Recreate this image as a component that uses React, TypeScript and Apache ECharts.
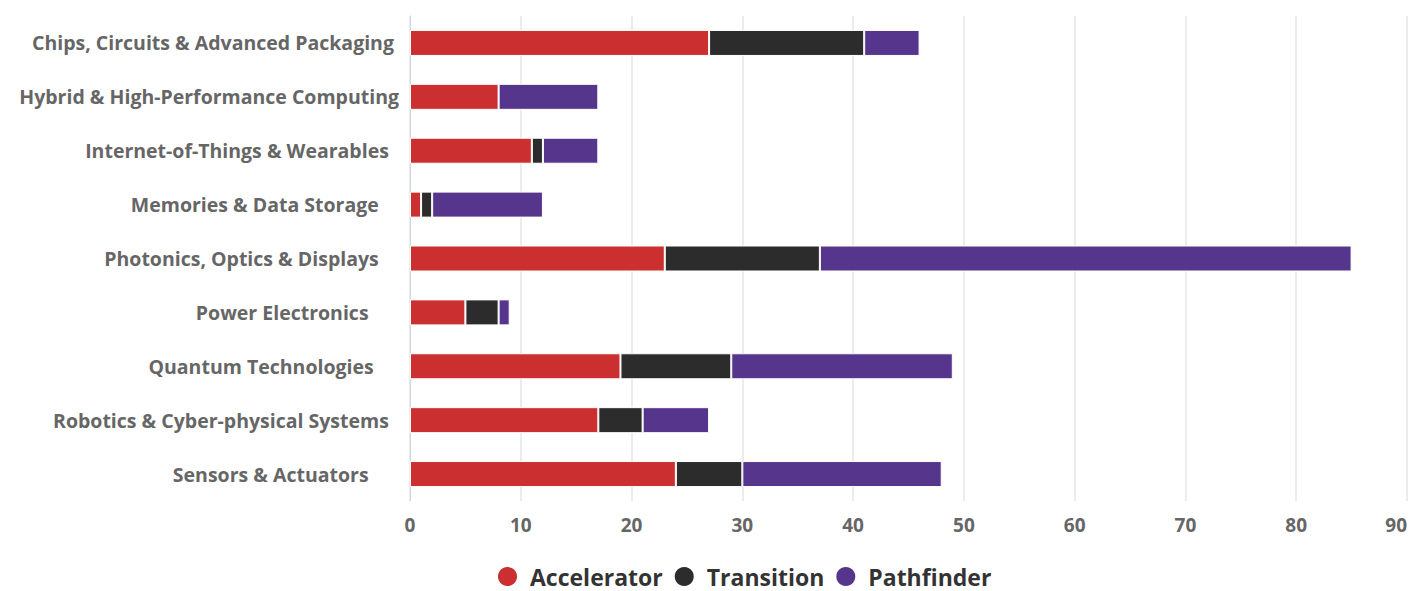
import React, { useEffect, useRef } from "react";
import * as echarts from "echarts";

const categories = [
  "Chips, Circuits & Advanced Packaging ",
  "Hybrid & High-Performance Computing",
  "Internet-of-Things & Wearables  ",
  "Memories & Data Storage    ",
  "Photonics, Optics & Displays    ",
  "Power Electronics      ",
  "Quantum Technologies     ",
  "Robotics & Cyber-physical Systems  ",
  "Sensors & Actuators      ",
];
const accelerator = [27, 8, 11, 1, 23, 5, 19, 17, 24];
const transition = [14, 0, 1, 1, 14, 3, 10, 4, 6];
const pathfinder = [5, 9, 5, 10, 48, 1, 20, 6, 18];
const xTicks = { min: 0, max: 90, interval: 10 };

const FONT = "'Open Sans', sans-serif";

export default function App() {
  const ref = useRef<HTMLDivElement>(null);
  useEffect(() => {
    const chart = echarts.init(ref.current!, undefined, { renderer: "svg" });
    const mk = (name: string, data: number[], color: string) => ({
      name,
      type: "bar",
      stack: "total",
      data,
      barWidth: 26,
      itemStyle: { color, borderColor: "#ffffff", borderWidth: 1 },
    });
    chart.setOption({
      animation: false,
      textStyle: { fontFamily: FONT },
      grid: {
        left: 410,
        right: 6,
        top: 16,
        bottom: 90,
        containLabel: false,
        outerBoundsMode: "none",
      },
      xAxis: {
        type: "value",
        min: xTicks.min,
        max: xTicks.max,
        interval: xTicks.interval,
        axisLine: { show: false },
        axisTick: { show: false },
        axisLabel: {
          color: "#666666",
          fontSize: 19,
          fontWeight: 700,
          margin: 14,
          fontFamily: FONT,
          alignMaxLabel: "right",
        },
        splitLine: { lineStyle: { color: "#e6e6e6", width: 1.5 } },
      },
      yAxis: {
        type: "category",
        inverse: true,
        data: categories,
        axisLine: { show: true, lineStyle: { color: "#ccd6eb", width: 1 } },
        axisTick: { show: false },
        axisLabel: { color: "#666666", fontSize: 19.5, fontWeight: 700, margin: 11, fontFamily: FONT },
      },
      legend: {
        top: 560,
        left: 491,
        icon: "circle",
        itemWidth: 21,
        itemHeight: 21,
        itemGap: 10,
        textStyle: {
          color: "#333333",
          fontSize: 23,
          fontWeight: 700,
          fontFamily: FONT,
          padding: [0, 0, 0, 7],
        },
      },
      series: [
        mk("Accelerator", accelerator, "#cb2f2f"),
        mk("Transition", transition, "#2c2c2c"),
        mk("Pathfinder", pathfinder, "#56368c"),
      ],
    });
    return () => chart.dispose();
  }, []);
  return (
    <div
      ref={ref}
      style={{ position: "fixed", left: 0, top: 0, width: 1413, height: 591, background: "#fff" }}
    />
  );
}
